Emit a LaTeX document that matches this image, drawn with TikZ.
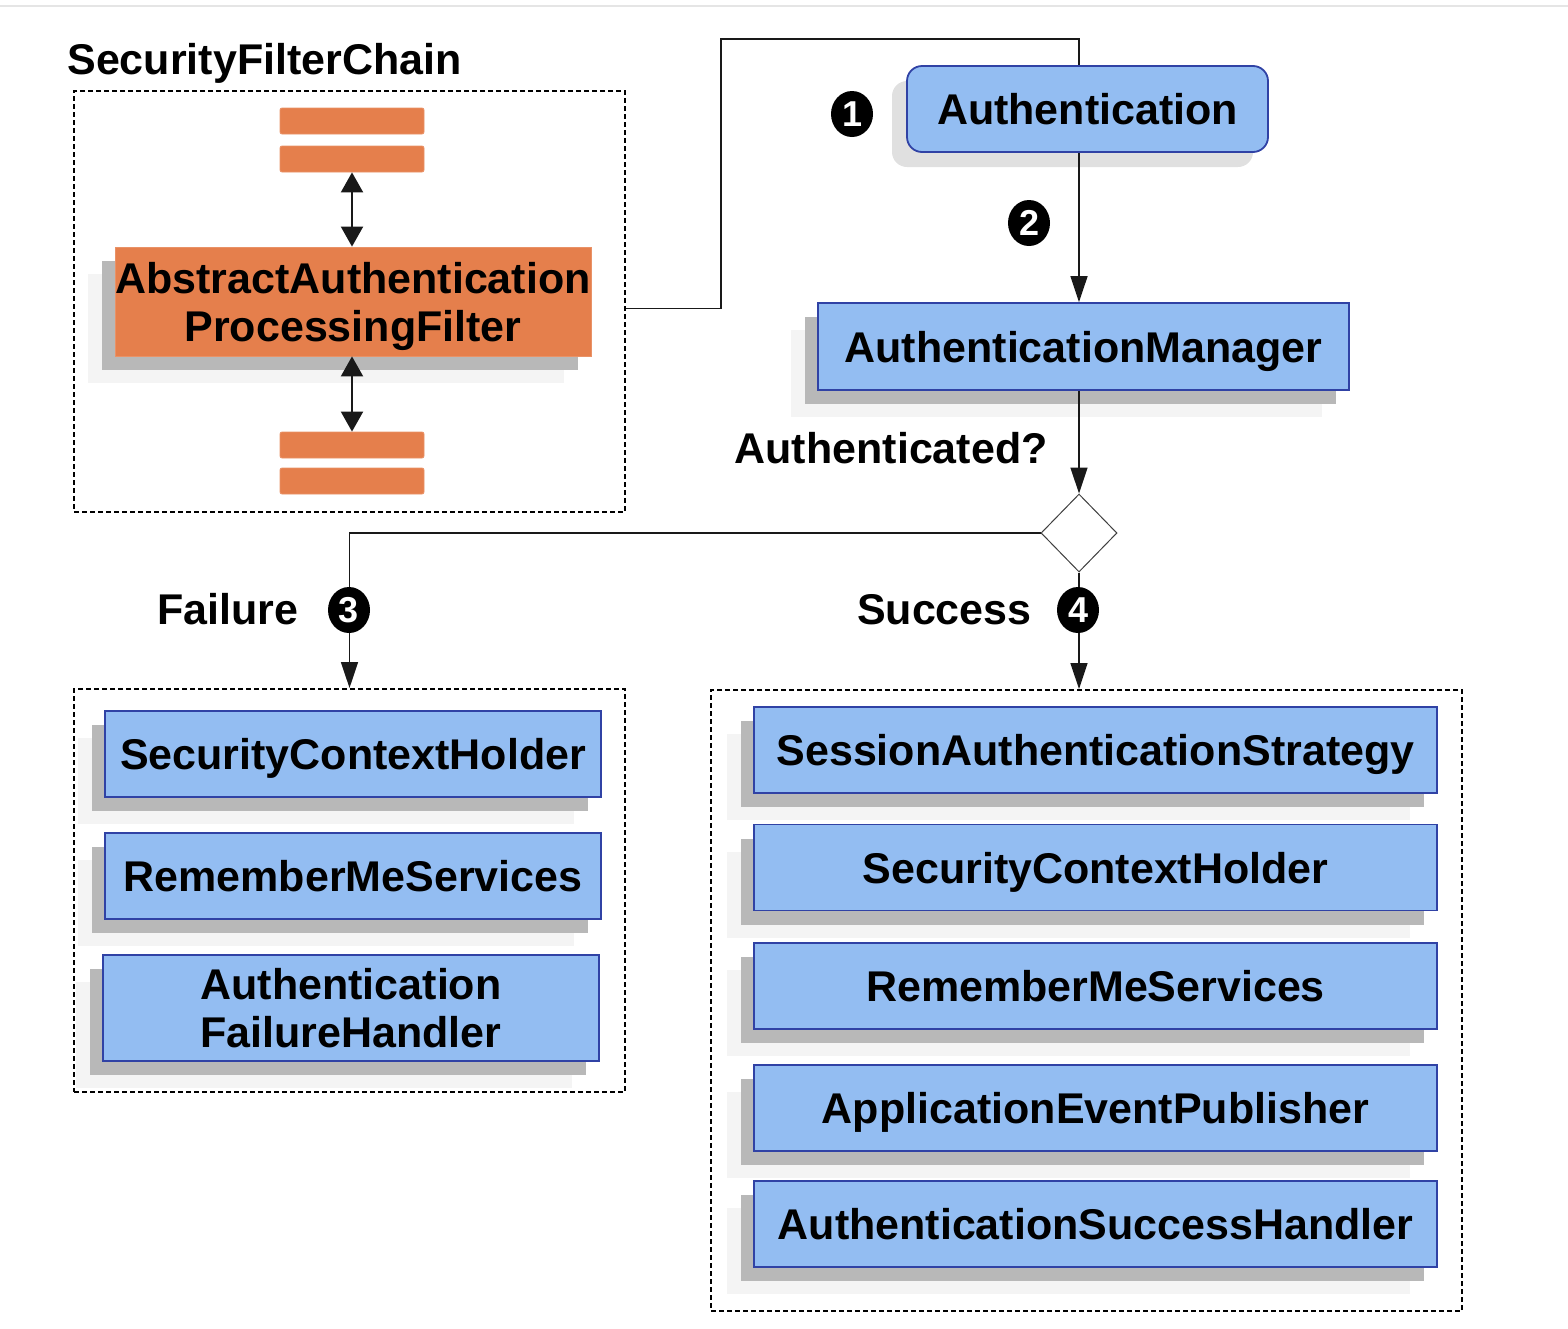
\documentclass[tikz,border=0pt]{standalone}
\usepackage{fontspec}
\setmainfont{Liberation Sans}
\usetikzlibrary{positioning,shapes.geometric,arrows.meta,shadows}

\definecolor{filterorange}{RGB}{229,127,76}
\definecolor{beanblue}{RGB}{147,189,242}
\definecolor{beanedge}{RGB}{48,66,165}
\definecolor{shadowdark}{RGB}{184,184,184}
\definecolor{shadowlight}{RGB}{244,244,244}
\definecolor{shadowsoft}{RGB}{224,224,224}

\begin{document}
\begin{tikzpicture}[x=0.5pt,y=-0.5pt,
    txt/.style={font=\bfseries\fontsize{21.5}{24}\selectfont},
    lbl/.style={txt,inner sep=0pt},
    twoshadows/.style={
      general shadow={fill=shadowlight,shadow xshift=-13.5pt,shadow yshift=-13.5pt},
      general shadow={fill=shadowdark,shadow xshift=-6.5pt,shadow yshift=-7pt}},
    bean/.style={draw=beanedge,line width=0.9pt,fill=beanblue,txt,align=center,
      inner sep=0pt,text depth=0pt,twoshadows},
    authbox/.style={draw=beanedge,line width=0.9pt,fill=beanblue,txt,inner sep=0pt,
      rounded corners=7.5pt,text depth=0pt,
      general shadow={fill=shadowsoft,shadow xshift=-7.5pt,shadow yshift=-7.5pt}},
    filterbox/.style={draw=filterorange!85!white,fill=filterorange,txt,align=center,
      inner sep=0pt,text depth=0pt,twoshadows},
    bar/.style={draw=filterorange!85!white,fill=filterorange,rounded corners=1pt,
      minimum width=72pt,minimum height=13pt,inner sep=0pt},
    dashbox/.style={draw,dash pattern=on 2.5pt off 1.5pt,line width=1pt,inner sep=0pt},
    conn/.style={draw=black!90,line width=0.8pt},
    arrowed/.style={-{Triangle[length=13pt,width=8.5pt]}},
    dblarrow/.style={line width=1pt,
      {Triangle[length=10pt,width=11pt]}-{Triangle[length=10pt,width=11pt]}},
    num/.style={ellipse,fill=black,text=white,inner sep=0pt,minimum width=21pt,
      minimum height=23pt,font=\bfseries\fontsize{18}{18}\selectfont}]
    \useasboundingbox (0,0) rectangle (1568,1328);

    % Page rule
    \draw[gray!20,line width=1pt] (0,6) -- (1568,6);

    % Dashed groups
    \node[dashbox,minimum width=275.5pt,minimum height=210.5pt] (chainbox) at (349.5,301.5) {};
    \node[dashbox,minimum width=275.5pt,minimum height=201.5pt] (failbox) at (349.5,890.5) {};
    \node[dashbox,minimum width=375.5pt,minimum height=310.5pt] (okbox) at (1086.5,1000.5) {};

    % Filter chain
    \node[lbl,anchor=base west] (chaintitle) at (67,74) {SecurityFilterChain};
    \foreach \i/\y in {1/121,2/159,3/445,4/481} {
      \node[bar] (bar\i) at (352,\y) {};
    }
    \node[filterbox,minimum width=238pt,minimum height=54.5pt] (aapf) at (353,301.5)
      {AbstractAuthentication\\ProcessingFilter};
    \draw[conn,dblarrow] (bar2.south) -- (bar2.south |- aapf.north);
    \draw[conn,dblarrow] (bar3.north |- aapf.south) -- (bar3.north);

    % Authentication flow
    \coordinate (spine) at (1079,0);
    \node[authbox,minimum width=180.5pt,minimum height=43pt] (auth) at (1087.5,109) {Authentication};
    \node[bean,minimum width=265.5pt,minimum height=43.5pt] (mgr) at (1083.5,346.5) {AuthenticationManager};
    \node[lbl,anchor=base east] (askd) at (1048,463) {Authenticated?};
    \node[diamond,draw=black!75,fill=white,line width=0.5pt,minimum width=38pt,
      minimum height=39pt,inner sep=0pt] (dec) at (1079,533) {};

    \draw[conn] ([yshift=-3.5pt]chainbox.east) -| (721,39) -| (auth.north -| spine);
    \draw[conn,arrowed] (auth.south -| spine) -- (mgr.north -| spine);
    \draw[conn,arrowed] (mgr.south -| spine) -- (dec.north);
    \draw[conn,arrowed] (dec.west) -| (failbox.north);
    \draw[conn,arrowed] (dec.south) -- (dec.south |- okbox.north);

    % Step numbers and branch labels
    \node[num] (n1) at (852,114) {1};
    \node[num] (n2) at (1029,223) {2};
    \node[num] (n3) at (349,610) {3};
    \node[num] (n4) at (1078,610) {4};
    \node[lbl,anchor=base east] (fail) at (299,624) {Failure};
    \node[lbl,anchor=base east] (succ) at (1032,624) {Success};

    % Failure handlers
    \foreach \i/\y/\cls in {1/754/SecurityContextHolder,2/876/RememberMeServices} {
      \node[bean,minimum width=248pt,minimum height=43pt] (fail\i) at (353,\y) {\cls};
    }
    \node[bean,minimum width=248pt,minimum height=53pt] (fail3) at (351,1008)
      {Authentication\\FailureHandler};

    % Success handlers
    \foreach \i/\y/\cls in {1/750/SessionAuthenticationStrategy,
        2/867.5/SecurityContextHolder,3/986/RememberMeServices,
        4/1108/ApplicationEventPublisher,5/1224/AuthenticationSuccessHandler} {
      \node[bean,minimum width=341.5pt,minimum height=43pt] (ok\i) at (1095.5,\y) {\cls};
    }
\end{tikzpicture}
\end{document}
